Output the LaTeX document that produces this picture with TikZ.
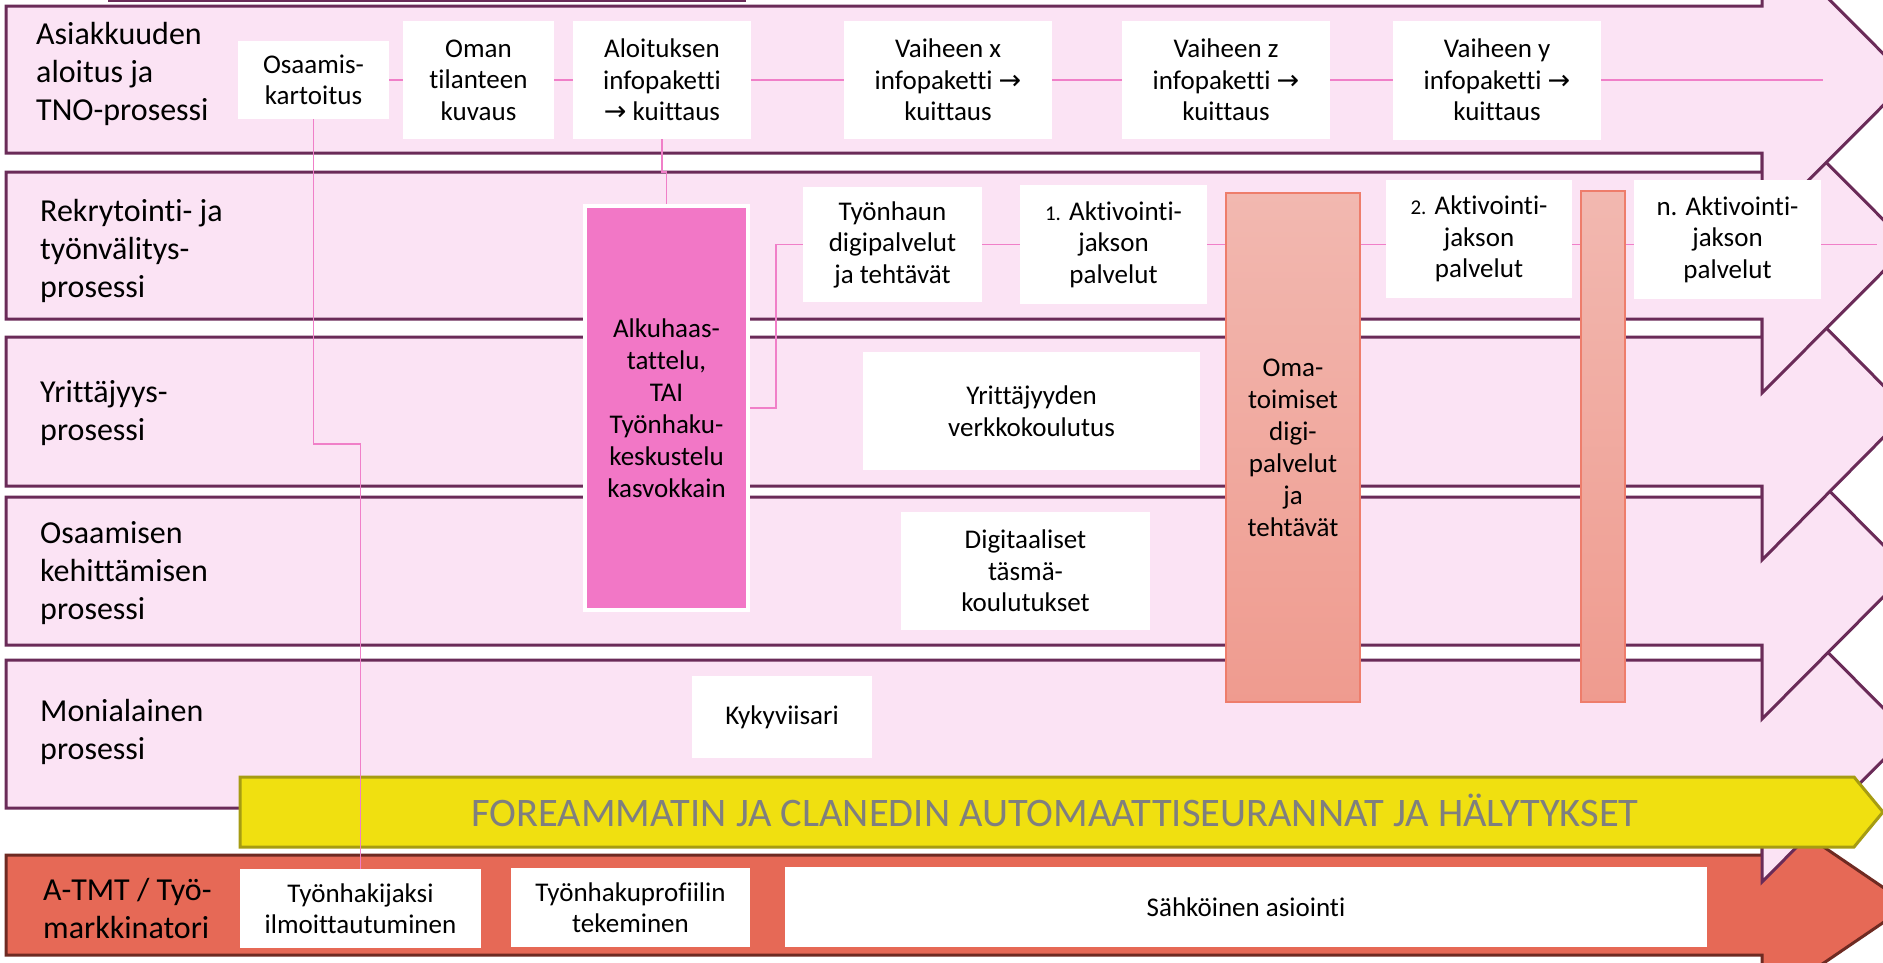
\documentclass[tikz,border=0pt]{standalone}
\usepackage{fontspec}
\setmainfont{Carlito}[Ligatures=NoCommon]
\newfontfamily\arrowfont{DejaVu Sans}
\usetikzlibrary{calc}
\definecolor{lanepink}{HTML}{FBE3F4}
\definecolor{laneborder}{HTML}{6A2B58}
\definecolor{redfill}{HTML}{E66956}
\definecolor{redborder}{HTML}{6E2A22}
\definecolor{yellowfill}{HTML}{F0E010}
\definecolor{yellowborder}{HTML}{A69C12}
\definecolor{greytext}{HTML}{7F7F7F}
\definecolor{pinkline}{HTML}{F07FC8}
\definecolor{alkupink}{HTML}{F277C6}
\definecolor{salmontop}{HTML}{F2B8B0}
\definecolor{salmonbot}{HTML}{EF9B8F}
\definecolor{salmonborder}{HTML}{EE7D6B}
\newcommand{\lanearrow}[4]{%
  \path[#4] (6,#1) -- (1762,#1) -- (1762,#1-#3) -- (1909,{(#1+#2)/2})
    -- (1762,#2+#3) -- (1762,#2) -- (6,#2) -- cycle;}
\newcommand{\ar}{{\arrowfont →}}
\newcommand{\smallnum}[1]{{\fontsize{21}{21}\selectfont #1}}
\begin{document}
\begin{tikzpicture}[x=1pt,y=-1pt,
  lane/.style={fill=lanepink,draw=laneborder,line width=3pt,line join=miter},
  redlane/.style={fill=redfill,draw=redborder,line width=3pt,line join=miter},
  band/.style={fill=yellowfill,draw=yellowborder,line width=3pt,line join=miter},
  wbox/.style={fill=white,draw=none,inner sep=0pt,align=center,
    font=\fontsize{27}{31.5}\selectfont,text=black},
  lanelabel/.style={anchor=west,inner sep=0pt,align=left,
    font=\fontsize{32}{38}\selectfont,text=black},
  conn/.style={draw=pinkline,line width=1.5pt},
  salmon/.style={top color=salmontop,bottom color=salmonbot,draw=salmonborder,
    line width=1.5pt,inner sep=0pt,align=center,font=\fontsize{27}{32}\selectfont,text=black},
]
\useasboundingbox (0,0) rectangle (1883,962);
\clip (0,0) rectangle (1883,962);
\fill[white] (0,0) rectangle (1883,962);
% fragment of a frame above the picture
\draw[laneborder,line width=3pt] (108,0.5) -- (746,0.5);
% lanes (bottom first, so upper lanes lie on top)
\lanearrow{855}{955}{50}{redlane}
\lanearrow{660}{808}{74}{lane}
\lanearrow{497}{645}{74}{lane}
\lanearrow{337}{486}{74}{lane}
\lanearrow{172}{319}{74}{lane}
\lanearrow{6}{153}{74}{lane}
% yellow band
\path[band] (240,777) -- (1854,777) -- (1883,812) -- (1854,847) -- (240,847) -- cycle;
\node[anchor=base,inner sep=0pt,text=greytext,font=\fontsize{40.5}{48}\selectfont] (bandtext) at (1055,826)
  {FOREAMMATIN JA CLANEDIN AUTOMAATTISEURANNAT JA HÄLYTYKSET};
% lane labels
\node[lanelabel] (lab1) at (36,73.5) {Asiakkuuden\\aloitus ja\\TNO-prosessi};
\node[lanelabel] (lab2) at (40,250.5) {Rekrytointi- ja\\työnvälitys-\\prosessi};
\node[lanelabel] (lab3) at (40,413.5) {Yrittäjyys-\\prosessi};
\node[lanelabel] (lab4) at (40,573.5) {Osaamisen\\kehittämisen\\prosessi};
\node[lanelabel] (lab5) at (40,731.5) {Monialainen\\prosessi};
\node[lanelabel] (lab6) at (43,908.5) {A-TMT / Työ-\\markkinatori};
% box positions
\path
  node[wbox,minimum width=151,minimum height=78] (osaamis) at (313.5,80) {}
  node[wbox,minimum width=151,minimum height=118] (oman) at (478.5,80) {}
  node[wbox,minimum width=178,minimum height=118] (aloitus) at (662,80) {}
  node[wbox,minimum width=208,minimum height=118] (vx) at (948,80) {}
  node[wbox,minimum width=208,minimum height=118] (vz) at (1226,80) {}
  node[wbox,minimum width=208,minimum height=119] (vy) at (1497,80) {};
\coordinate (l1end) at (1823,80);
\coordinate (l2end) at (1877,244.5);
\coordinate (j1) at (360.5,444);
\coordinate (j2) at (666.5,172);
\coordinate (j3) at (776,408);
\path
  node[inner sep=0pt,minimum width=163,minimum height=404] (alku) at (666.5,408) {}
  node[wbox,minimum width=179,minimum height=115] (tyon) at (892.5,244.5) {}
  node[wbox,minimum width=187,minimum height=119] (akt1) at (1113.5,244.5) {}
  node[inner sep=0pt,minimum width=134,minimum height=509] (oma) at (1293,447.5) {}
  node[wbox,minimum width=186,minimum height=118] (akt2) at (1479,239) {}
  node[inner sep=0pt,minimum width=44,minimum height=511] (bar) at (1603,446.5) {}
  node[wbox,minimum width=187,minimum height=119] (aktn) at (1727.5,239.5) {}
  node[wbox,minimum width=241,minimum height=79] (tyohak) at (360.5,908.5) {};
% connectors
\draw[conn] (osaamis.east) -- (oman.west);
\draw[conn] (oman.east) -- (aloitus.west);
\draw[conn] (aloitus.east) -- (vx.west);
\draw[conn] (vx.east) -- (vz.west);
\draw[conn] (vz.east) -- (vy.west);
\draw[conn] (vy.east) -- (l1end);
\draw[conn] (tyon.east) -- (akt1.west);
\draw[conn] (akt1.east) -- (akt1.east -| oma.west);
\draw[conn] (oma.east |- tyon.east) -- (tyon.east -| akt2.west);
\draw[conn] (akt2.east |- tyon.east) -- (tyon.east -| bar.west);
\draw[conn] (bar.east |- tyon.east) -- (tyon.east -| aktn.west);
\draw[conn] (aktn.east |- tyon.east) -- (l2end);
\draw[conn] (osaamis.south) |- (j1) -- (tyohak.north);
\draw[conn] (aloitus.south) |- (j2) -- (alku.north);
\draw[conn] (alku.east) -- (j3) |- (tyon.west);
% boxes
\node[wbox,minimum width=151,minimum height=78] at (osaamis) {Osaamis-\\kartoitus};
\node[wbox,minimum width=151,minimum height=118] at (oman) {Oman\\tilanteen\\kuvaus};
\node[wbox,minimum width=178,minimum height=118] at (aloitus) {Aloituksen\\infopaketti\\\ar{} kuittaus};
\node[wbox,minimum width=208,minimum height=118] at (vx) {Vaiheen x\\infopaketti \ar\\kuittaus};
\node[wbox,minimum width=208,minimum height=118] at (vz) {Vaiheen z\\infopaketti \ar\\kuittaus};
\node[wbox,minimum width=208,minimum height=119] at (vy) {Vaiheen y\\infopaketti \ar\\kuittaus};
\node[fill=alkupink,draw=white,line width=4pt,inner sep=0pt,minimum width=163,minimum height=404,
  align=center,font=\fontsize{27}{32}\selectfont] at (alku)
  {Alkuhaas-\\tattelu,\\TAI\\Työnhaku-\\keskustelu\\kasvokkain};
\node[wbox,minimum width=179,minimum height=115] at (tyon) {Työnhaun\\digipalvelut\\ja tehtävät};
\node[wbox,minimum width=187,minimum height=119] at (akt1) {\smallnum{1.} Aktivointi-\\jakson\\palvelut};
\node[salmon,minimum width=134,minimum height=509] at (oma)
  {Oma-\\toimiset\\digi-\\palvelut\\ja\\tehtävät};
\node[wbox,minimum width=186,minimum height=118] at (akt2) {\smallnum{2.} Aktivointi-\\jakson\\palvelut};
\node[salmon,minimum width=44,minimum height=511] at (bar) {};
\node[wbox,minimum width=187,minimum height=119] at (aktn) {n. Aktivointi-\\jakson\\palvelut};
\node[wbox,minimum width=337,minimum height=118] (yrit) at (1031.5,411) {Yrittäjyyden\\verkkokoulutus};
\node[wbox,minimum width=249,minimum height=118] (digi) at (1025.5,571) {Digitaaliset\\täsmä-\\koulutukset};
\node[wbox,minimum width=180,minimum height=82] (kyky) at (782,717) {Kykyviisari};
\node[wbox,minimum width=241,minimum height=79] at (tyohak) {Työnhakijaksi\\ilmoittautuminen};
\node[wbox,minimum width=239,minimum height=79] (profiili) at (630.5,907.5) {Työnhakuprofiilin\\tekeminen};
\node[wbox,minimum width=922,minimum height=80] (sahko) at (1246,907) {Sähköinen asiointi};
\end{tikzpicture}
\end{document}
